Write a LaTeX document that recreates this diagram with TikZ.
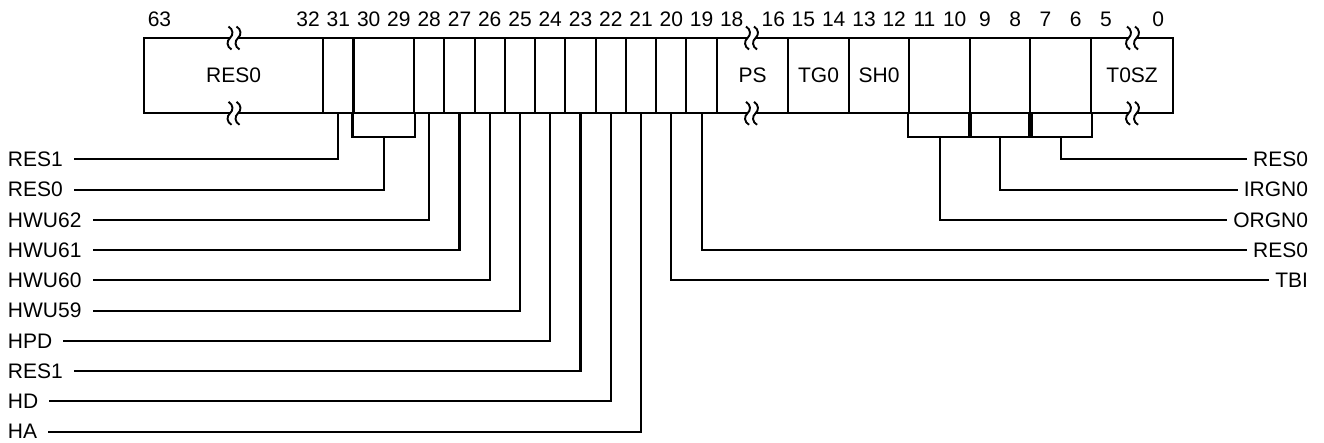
\documentclass[tikz,border=0pt]{standalone}
\usepackage{fontspec}
\setmainfont{Liberation Sans}
\usetikzlibrary{positioning}
\tikzset{
  field/.style={draw,line width=2.1pt,minimum height=75.3pt,inner sep=0pt},
  bitnum/.style={inner sep=0pt},
  leftlbl/.style={anchor=west,inner sep=0pt,outer xsep=11pt},
  rightlbl/.style={anchor=east,inner sep=0pt,outer xsep=6pt},
  lead/.style={line width=2.1pt},
  breakmark/.pic={
    \fill[white] (-4,-3) rectangle (4,3);
    \draw[line width=1.9pt] (-5.5,-11.5) .. controls (-0.5,-8.5) and (-0.5,-3) .. (-4,0)
      .. controls (-7.5,3) and (-7.5,8.5) .. (-2.5,11.5);
    \draw[line width=1.9pt] (2.5,-11.5) .. controls (7.5,-8.5) and (7.5,-3) .. (4,0)
      .. controls (0.5,3) and (0.5,8.5) .. (5.5,11.5);
  }
}

\begin{document}
\begin{tikzpicture}[x=1pt,y=-1pt,font=\fontsize{21}{25}\selectfont]
  \useasboundingbox (0,0) rectangle (1324,442);
  % register fields
  \node[field,minimum width=179.3pt] (fres) at (233.65,75.7) {RES0};
  \foreach \n in {31,28,27,26,25,24,23,22,21,20,19}
    \node[field,minimum width=30.26pt] (f\n) at ({323.3+(31.5-\n)*30.26},75.7) {};
  \node[field,minimum width=60.52pt] (f30) at (383.8,75.7) {};
  \node[field,minimum width=71.6pt] (fps) at (752.5,75.7) {PS};
  \node[field,minimum width=60.52pt] (ftg) at (818.55,75.7) {TG0};
  \node[field,minimum width=60.52pt] (fsh) at (879.1,75.7) {SH0};
  \node[field,minimum width=60.52pt] (f11) at (939.65,75.7) {};
  \node[field,minimum width=60.52pt] (f9) at (1000.15,75.7) {};
  \node[field,minimum width=60.52pt] (f7) at (1060.65,75.7) {};
  \node[field,minimum width=82.4pt] (ft0) at (1132.1,75.7) {T0SZ};
  % breaks in the wide fields
  \pic at (234,38) {breakmark};
  \pic at (234,113.3) {breakmark};
  \pic at (751.5,38) {breakmark};
  \pic at (751.5,113.3) {breakmark};
  \pic at (1132.5,38) {breakmark};
  \pic at (1132.5,113.3) {breakmark};
  % bit numbers
  \foreach \b/\x in {63/159.5,32/308,31/338.4,30/368.7,29/398.9,28/429.2,27/459.5,
      26/489.7,25/520,24/550.2,23/580.5,22/610.8,21/641,20/671.3,19/701.6,18/731.7,
      16/773.3,15/803.4,14/833.7,13/864,12/894.2,11/924.5,10/954.7,9/985,8/1015.3,
      7/1045.5,6/1075.8,5/1105.9,0/1158.3}
    \node[bitnum] (n\b) at (\x,19.5) {\b};
  % brackets over two-bit fields
  \draw[lead] (f30.south west) -- ++(0,22.7) -| (f30.south east);
  \draw[lead] (f11.south west) -- ++(0,22.7) -| (f11.south east);
  \draw[lead] (f9.south west) -- ++(0,22.7) -| (f9.south east);
  \draw[lead] (f7.south west) -- ++(0,22.7) -| (f7.south east);
  \path (f30.south) ++(0,22.7) coordinate (k30);
  \path (f11.south) ++(0,22.7) coordinate (k11);
  \path (f9.south) ++(0,22.7) coordinate (k9);
  \path (f7.south) ++(0,22.7) coordinate (k7);
  % left side
  \node[leftlbl] (l31) at (-3,159.3) {RES1};
  \node[leftlbl] (l30) at (-3,189.55) {RES0};
  \draw[lead] (f31.south) |- (l31.east);
  \draw[lead] (k30) |- (l30.east);
  \foreach \n/\t [count=\k from 2] in {28/HWU62,27/HWU61,26/HWU60,25/HWU59,
      24/HPD,23/RES1,22/HD,21/HA}{
    \node[leftlbl] (l\n) at (-3,{159.3+30.25*\k}) {\t};
    \draw[lead] (f\n.south) |- (l\n.east);
  }
  % right side
  \node[rightlbl] (r7) at (1314,159.3) {RES0};
  \node[rightlbl] (r9) at (1314,189.55) {IRGN0};
  \node[rightlbl] (r11) at (1314,219.8) {ORGN0};
  \node[rightlbl] (r19) at (1314,250.05) {RES0};
  \node[rightlbl] (r20) at (1314,280.3) {TBI};
  \draw[lead] (k7) |- (r7.west);
  \draw[lead] (k9) |- (r9.west);
  \draw[lead] (k11) |- (r11.west);
  \draw[lead] (f19.south) |- (r19.west);
  \draw[lead] (f20.south) |- (r20.west);
\end{tikzpicture}
\end{document}
